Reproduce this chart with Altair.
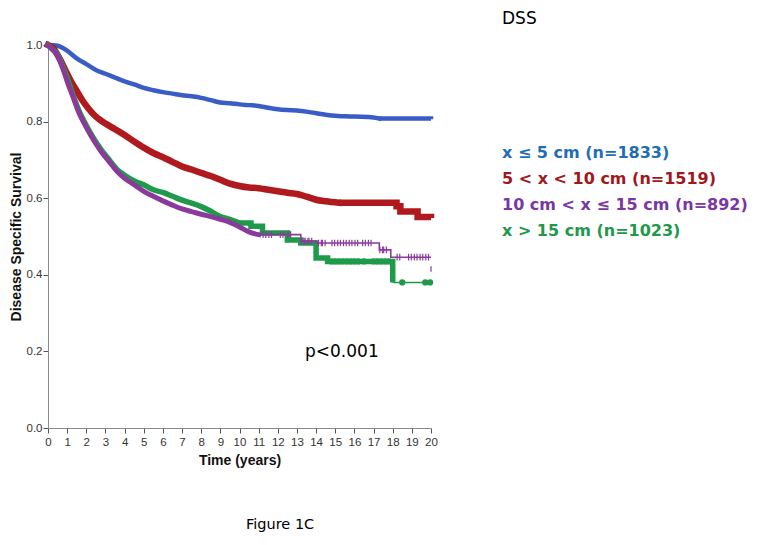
import altair as alt
import pandas as pd

# ---- data ----
groups = ["x ≤ 5 cm (n=1833)", "5 < x < 10 cm (n=1519)",
          "10 cm < x ≤ 15 cm (n=892)", "x > 15 cm (n=1023)"]
line_colors = ["#3a5cc6", "#b01a1e", "#8b3a9c", "#1e9a4a"]
text_colors = ["#1f6db5", "#a0181c", "#7a36a6", "#21984a"]

blue_t = [0, 0.5, 1.0, 1.5, 2.0, 2.5, 3.0, 3.5, 4.0, 4.5, 5.0, 5.5, 6.0, 6.5, 7.0, 7.5,
          8.0, 8.5, 9.0, 9.5, 10.0, 10.5, 11.0, 11.5, 12.0, 12.5, 13.0, 13.5, 14.0, 14.5,
          15.0, 15.5, 16.0, 17.0, 17.3, 20.0]
blue_s = [1.0, 0.998, 0.985, 0.965, 0.95, 0.935, 0.925, 0.915, 0.905, 0.897, 0.888, 0.882,
          0.877, 0.873, 0.869, 0.866, 0.862, 0.856, 0.850, 0.848, 0.845, 0.843, 0.841, 0.836,
          0.832, 0.830, 0.829, 0.826, 0.822, 0.818, 0.815, 0.814, 0.813, 0.811, 0.808, 0.806]

red_t = [0, 0.3, 0.6, 0.9, 1.2, 1.5, 1.8, 2.1, 2.4, 2.7, 3.0, 3.5, 4.0, 4.5, 5.0, 5.5, 6.0,
         6.5, 7.0, 7.5, 8.0, 8.5, 9.0, 9.5, 10.0, 10.5, 11.0, 11.5, 12.0, 12.5, 13.0, 13.5,
         14.0, 14.5, 15.2, 18.2, 18.4, 19.3, 20.0]
red_s = [1.0, 0.99, 0.965, 0.935, 0.905, 0.88, 0.855, 0.835, 0.818, 0.805, 0.795, 0.78,
         0.765, 0.748, 0.732, 0.718, 0.707, 0.695, 0.683, 0.675, 0.666, 0.658, 0.648, 0.638,
         0.632, 0.628, 0.626, 0.622, 0.618, 0.614, 0.611, 0.604, 0.596, 0.592, 0.588, 0.579,
         0.565, 0.551, 0.548]

purple_t = [0, 0.2, 0.5, 0.8, 1.0, 1.3, 1.6, 2.0, 2.4, 2.8, 3.2, 3.6, 4.0, 4.5, 5.0, 5.5,
            6.0, 6.5, 7.0, 7.5, 8.0, 8.5, 9.0, 9.5, 10.0, 10.5, 11.0, 13.2, 14.0, 17.3,
            17.9, 19.95, 20.0]
purple_s = [1.0, 0.99, 0.972, 0.935, 0.905, 0.865, 0.825, 0.785, 0.75, 0.72, 0.695, 0.67,
            0.652, 0.635, 0.618, 0.605, 0.593, 0.582, 0.572, 0.565, 0.558, 0.552, 0.545,
            0.537, 0.525, 0.512, 0.505, 0.488, 0.483, 0.465, 0.446, 0.446, 0.446]
purple_cens = [11.3, 11.6, 12.2, 12.6, 13.3, 13.5, 13.7, 14.2, 14.4, 14.9, 15.2, 15.5,
               15.8, 16.1, 16.5, 16.8, 17.4, 17.6, 18.3, 18.9, 19.2, 19.5, 19.8]

green_t = [0, 0.2, 0.5, 0.8, 1.0, 1.3, 1.6, 2.0, 2.4, 2.8, 3.2, 3.6, 4.0, 4.5, 5.0, 5.5,
           6.0, 6.5, 7.0, 7.5, 8.0, 8.5, 9.0, 9.5, 10.0, 10.6, 11.2, 12.5, 13.2, 14.0,
           14.6, 18.0, 20.0]
green_s = [1.0, 0.99, 0.975, 0.94, 0.915, 0.87, 0.83, 0.79, 0.755, 0.725, 0.70, 0.675,
           0.66, 0.645, 0.635, 0.622, 0.615, 0.605, 0.595, 0.587, 0.578, 0.566, 0.552,
           0.545, 0.535, 0.527, 0.509, 0.491, 0.483, 0.444, 0.435, 0.38, 0.38]
green_cens = [14.8, 15.0, 15.2, 15.4, 15.6, 15.8, 16.0, 16.2, 16.5, 17.0, 17.2, 17.4,
              17.6, 17.8, 18.5, 19.7, 19.95]

x_ticks = list(range(0, 21))
y_ticks = [0.0, 0.2, 0.4, 0.6, 0.8, 1.0]


def step_value(ts, ss, t):
    v = ss[0]
    for a, b in zip(ts, ss):
        if a <= t:
            v = b
    return v


# name, times, values, smooth until, thin from, thick width, censor times, censor kind
series = [
    (groups[0], blue_t, blue_s, 17.3, 99, 4.5, [], None),
    (groups[1], red_t, red_s, 15.2, 99, 6.5, [], None),
    (groups[3], green_t, green_s, 10.0, 18.0, 5.5, green_cens, "circle"),
    (groups[2], purple_t, purple_s, 11.0, 11.0, 5.0, purple_cens, "tick"),
]

color_scale = alt.Scale(domain=groups, range=line_colors)
xs = alt.Scale(domain=[0, 20], nice=False, zero=False)
ys = alt.Scale(domain=[0, 1], nice=False)

xaxis = alt.Axis(values=x_ticks, title="Time (years)", grid=False, tickSize=5,
                 labelFontSize=11.5, labelColor="#333333", labelFont="Liberation Sans",
                 domainColor="#8a8a8a", tickColor="#555555", labelPadding=3,
                 titleFont="Liberation Sans", titleFontSize=14, titleFontWeight="bold",
                 titlePadding=6, titleColor="#111111", labelFlush=False)
yaxis = alt.Axis(values=y_ticks, format=".1f", title="Disease Specific Survival",
                 grid=False, tickSize=5, labelFontSize=11.5, labelColor="#333333",
                 labelFont="Liberation Sans", domainColor="#8a8a8a", tickColor="#555555",
                 labelPadding=1, titleFont="Liberation Sans", titleFontSize=14,
                 titleFontWeight="bold", titlePadding=3, titleColor="#111111",
                 labelFlush=False)


def enc(ch):
    return ch.encode(
        x=alt.X("t:Q", scale=xs, axis=xaxis),
        y=alt.Y("s:Q", scale=ys, axis=yaxis),
        color=alt.Color("grp:N", scale=color_scale, legend=None),
    )


def part(ts, ss, lo, hi, name):
    return pd.DataFrame({"t": [t for t in ts if lo <= t <= hi],
                         "s": [s for t, s in zip(ts, ss) if lo <= t <= hi], "grp": name})


layers = []
for name, ts, ss, smooth_end, thin_from, w, cens, kind in series:
    head = part(ts, ss, 0, smooth_end, name)
    mid = part(ts, ss, smooth_end, thin_from, name)
    tail = part(ts, ss, thin_from, 20, name)
    layers.append(enc(alt.Chart(head).mark_line(interpolate="monotone", strokeWidth=w,
                                                strokeCap="square")))
    if len(mid) > 1:
        layers.append(enc(alt.Chart(mid).mark_line(interpolate="step-after", strokeWidth=w,
                                                   strokeCap="butt")))
    if len(tail) > 1:
        layers.append(enc(alt.Chart(tail).mark_line(interpolate="step-after",
                                                    strokeWidth=1.6, strokeCap="butt")))
    if cens:
        cdf = pd.DataFrame({"t": cens, "s": [step_value(ts, ss, c) for c in cens],
                            "grp": name})
        if kind == "circle":
            pm = alt.Chart(cdf).mark_point(shape="circle", filled=True, size=40, opacity=1)
        else:
            pm = alt.Chart(cdf).mark_point(shape="M-0.4,-1V1M0.4,-1V1", filled=False,
                                           size=45, strokeWidth=1.2, opacity=1)
        layers.append(enc(pm))

# stray purple censor tick at the far right
stray = pd.DataFrame({"t": [20.0], "s": [0.415], "grp": [groups[2]]})
layers.append(enc(alt.Chart(stray).mark_point(shape="M0,-1V1", filled=False, size=30,
                                              strokeWidth=1.2, opacity=1)))

one = pd.DataFrame({"a": [0]})


def label(txt, x, y, color="#000000", size=18, weight="normal", font="DejaVu Sans",
          baseline="middle"):
    return alt.Chart(one).mark_text(text=txt, align="left", baseline=baseline,
                                    fontSize=size, fontWeight=weight, font=font,
                                    color=color).encode(x=alt.value(x), y=alt.value(y))


# page coords -> plot coords: x - 48, y - 45
layers.append(label("DSS", 502 - 48, 24 - 45, size=17, baseline="alphabetic"))
layers.append(label("p<0.001", 305 - 48, 352 - 45, size=17))
layers.append(label("Figure 1C", 246 - 48, 525 - 45, size=14.5))
for i, (g, c) in enumerate(zip(groups, text_colors)):
    layers.append(label(g, 502 - 48, 153 - 45 + i * 26, color=c, size=16, weight="bold"))

chart = alt.layer(*layers).properties(
    width=383, height=383,
    autosize=alt.AutoSizeParams(type="none"),
    padding={"left": 40, "top": 37, "right": 323, "bottom": 109},
).configure_view(stroke=None)

chart.save("out.html", embed_options={"renderer": "svg", "actions": False})
